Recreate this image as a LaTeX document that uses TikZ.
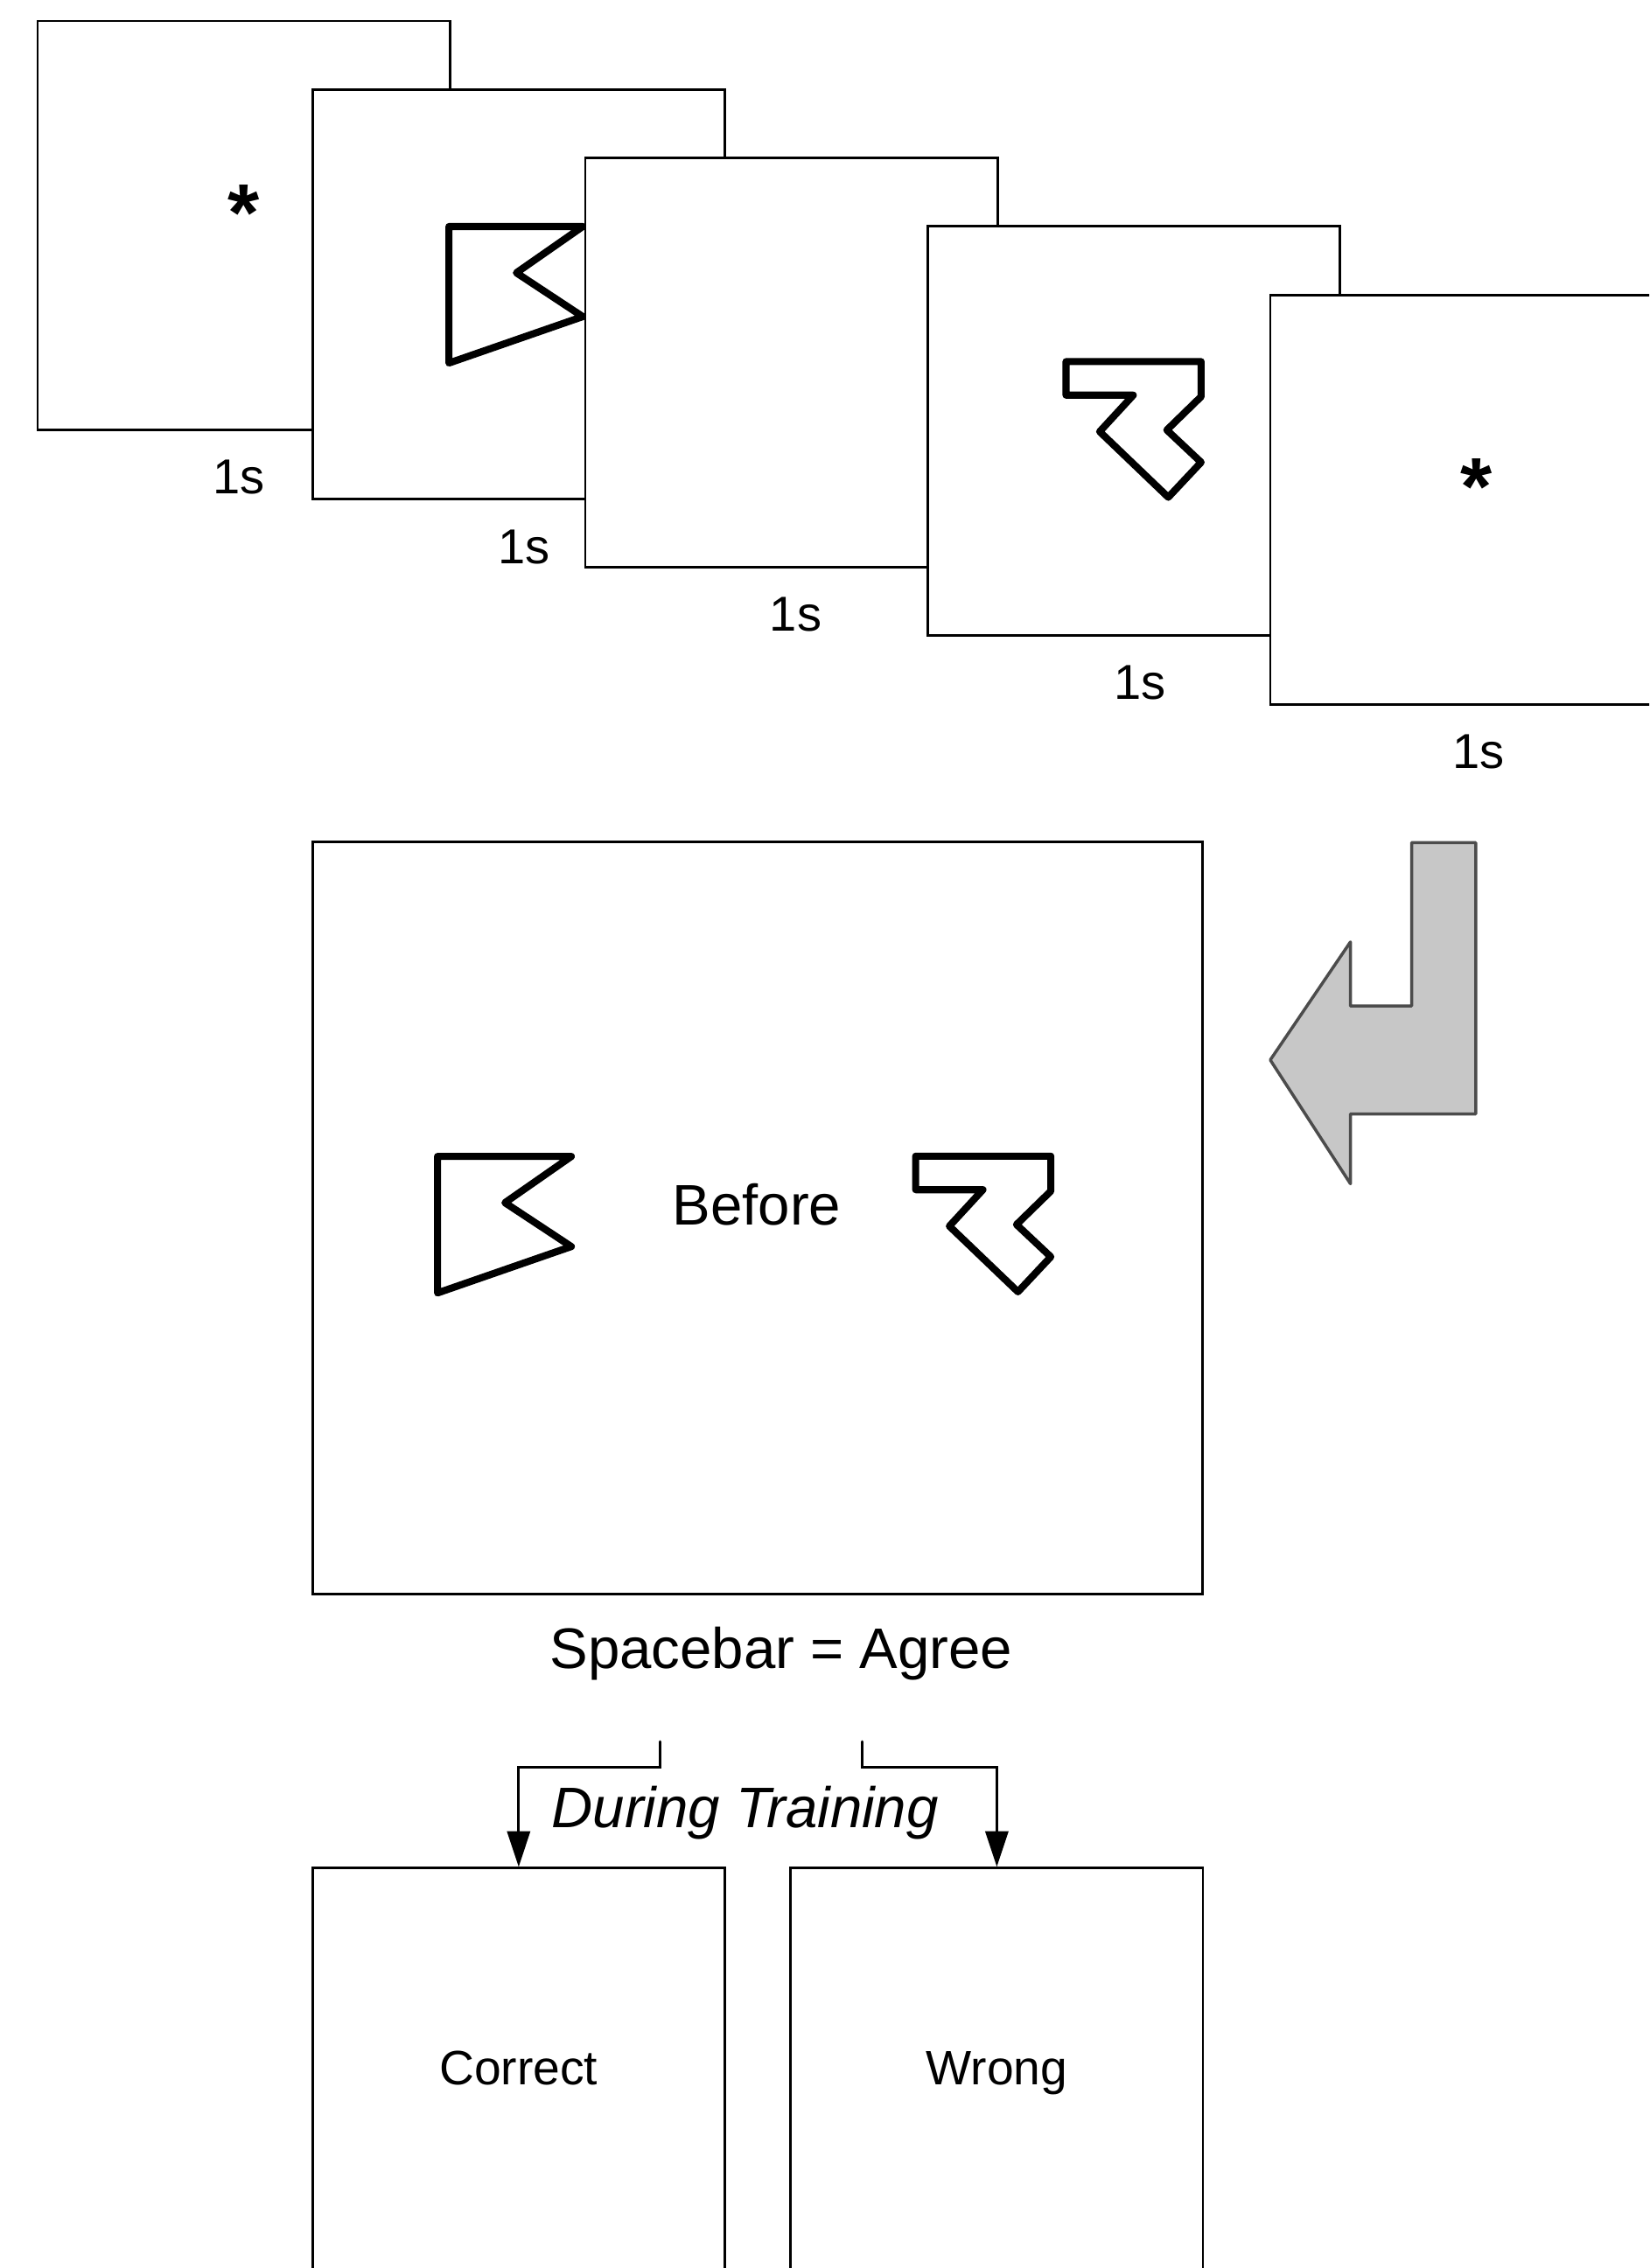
\documentclass[tikz,border=0pt]{standalone}
\usepackage{fontspec}
\setmainfont{Liberation Sans}
\usetikzlibrary{arrows.meta}
\tikzset{
  flagfig/.pic={\draw[line width=2.8pt,line join=round] (0,0)--(92.5,0)--(46.6,32)--(92.5,62.3)--(0,94.4)--cycle;},
  zfig/.pic={\draw[line width=2.8pt,line join=round] (0,0)--(93.4,0)--(93.4,24.2)--(69.7,47.3)--(93.4,69.6)--(70.7,93.8)--(23.3,48.4)--(46.5,23.2)--(0,23.2)--cycle;}
}
\begin{document}
\begin{tikzpicture}[x=.02cm,y=-.02cm,line width=1pt,line cap=round,
  slide/.style={draw,fill=white,minimum width=5.7cm,minimum height=5.66cm,inner sep=0pt},
  star/.style={font=\fontsize{32}{36}\selectfont\bfseries,text depth=10.2pt},
  dur/.style={font=\fontsize{19.3}{23}\selectfont},
  txt/.style={font=\fontsize{22.5}{27}\selectfont},
  small/.style={font=\fontsize{19}{23}\selectfont,text height=13.5pt,text depth=4pt}]
  \fill[white] (0,0) rectangle (1140,1568);
  \useasboundingbox (0,0) rectangle (1140,1568);
  \clip (0,0) rectangle (1140,1568);
  % screens, one per second
  \node[slide,star] (s1) at (168.5,156) {*};
  \node[slide] (s2) at (358.5,203.5) {}; \pic at (310.3,156.6) {flagfig};
  \node[slide] (s3) at (547,250.5) {};
  \node[slide] (s4) at (783.5,298) {}; \pic at (736.8,250) {zfig};
  \node[slide,star] (s5) at (1020.5,345.5) {*};
  \node[dur] (d1) at (165,330) {1s}; \node[dur] (d2) at (362,378) {1s};
  \node[dur] (d3) at (550,425) {1s}; \node[dur] (d4) at (788,472) {1s};
  \node[dur] (d5) at (1022,520) {1s};
  % turn arrow
  \draw[fill=black!22,draw=black!70,line width=1.2pt,line join=round] (975.7,582.6)--(1020.1,582.6)--(1020.1,770.1)--(933.4,770.1)
    --(933.4,818.4)--(878,732.8)--(933.4,651.2)--(933.4,695.5)--(975.7,695.5)--cycle;
  % response screen
  \node[draw,fill=white,minimum width=12.3cm,minimum height=10.4cm,inner sep=0pt] (resp) at (523.5,842) {};
  \pic at (302.4,799.5) {flagfig}; \pic at (632.9,799.3) {zfig};
  \node[txt] (cue) at (523,833) {Before};
  \node[txt] (key) at (540,1143) {Spacebar = Agree};
  \node[txt,font=\fontsize{22.5}{27}\selectfont\itshape] (train) at (515,1253) {During Training};
  % feedback
  \node[slide,small] (ok) at (358.5,1433) {Correct};
  \node[slide,small] (bad) at (689,1433) {Wrong};
  \coordinate (kl) at (456,1204); \coordinate (kr) at (596,1204);
  \draw[-{Triangle[length=14pt,width=9pt]}] (kl)--++(0,18)-|(ok.north);
  \draw[-{Triangle[length=14pt,width=9pt]}] (kr)--++(0,18)-|(bad.north);
\end{tikzpicture}
\end{document}
